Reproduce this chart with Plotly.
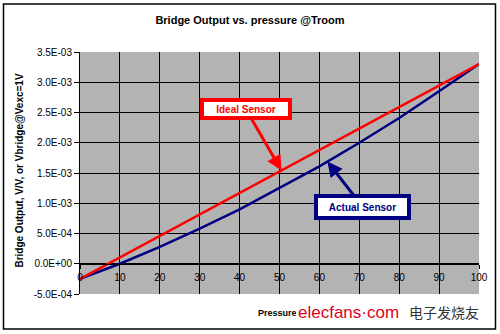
import plotly.graph_objects as go

pressure = [0, 10, 20, 30, 40, 50, 60, 70, 80, 90, 100]
ideal_sensor = [-2.5e-4, 1.05e-4, 4.6e-4, 8.15e-4, 1.17e-3, 1.525e-3, 1.88e-3, 2.235e-3, 2.59e-3, 2.945e-3, 3.3e-3]
actual_sensor = [-2.5e-4, 0.0, 2.8e-4, 5.8e-4, 9.0e-4, 1.25e-3, 1.61e-3, 2.0e-3, 2.41e-3, 2.85e-3, 3.3e-3]
y_ticks = [-5e-4, 0.0, 5e-4, 1e-3, 1.5e-3, 2e-3, 2.5e-3, 3e-3, 3.5e-3]
y_ticktext = [f"{v:.1E}" for v in y_ticks]
x_ticks = [0, 10, 20, 30, 40, 50, 60, 70, 80, 90, 100]

FONT = "Liberation Sans, Arial, sans-serif"

fig = go.Figure()
fig.add_trace(go.Scatter(x=pressure, y=actual_sensor, mode="lines",
                         line=dict(color="#000080", width=2.5), showlegend=False))
fig.add_trace(go.Scatter(x=pressure, y=ideal_sensor, mode="lines",
                         line=dict(color="#ff0000", width=2.5), showlegend=False))

fig.update_layout(
    width=500, height=334,
    margin=dict(l=80, r=21, t=52, b=40),
    paper_bgcolor="white",
    plot_bgcolor="#b3b3b3",
    font=dict(family=FONT, color="black", size=10),
    title=dict(text="<b>Bridge Output vs. pressure @Troom</b>",
               x=0.5, xref="container", xanchor="center",
               y=1 - 20 / 334, yref="container", yanchor="middle",
               font=dict(size=11, family=FONT, color="black")),
    xaxis=dict(range=[0, 100], tickvals=x_ticks, showgrid=True, gridcolor="black",
               gridwidth=1, showline=True, linecolor="black", linewidth=1,
               ticks="outside", ticklen=4, tickcolor="black",
               anchor="free", position=0.125, zeroline=False,
               tickfont=dict(size=10, family=FONT, color="black")),
    yaxis=dict(range=[-5e-4, 3.5e-3], tickvals=y_ticks, ticktext=y_ticktext,
               showgrid=True, gridcolor="black", gridwidth=1,
               showline=True, linecolor="black", linewidth=1,
               ticks="outside", ticklen=5, tickcolor="black", zeroline=False,
               tickfont=dict(size=10, family=FONT, color="black")),
)

# Y axis title
fig.add_annotation(text="<b>Bridge Output, V/V, or Vbridge@Vexc=1V</b>",
                   xref="paper", yref="paper", x=(20 - 80) / 399, y=0.51,
                   xanchor="center", yanchor="middle", textangle=-90,
                   showarrow=False, font=dict(size=10, family=FONT, color="black"))
# X axis title
fig.add_annotation(text="<b>Pressure</b>", xref="paper", yref="paper",
                   x=(256 - 80) / 399, y=(294 - 313) / 242,
                   xanchor="left", yanchor="middle", showarrow=False,
                   font=dict(size=9, family=FONT, color="black"))
# watermark
fig.add_annotation(text="elecfans·com", xref="paper", yref="paper",
                   x=(296 - 80) / 399, y=(294 - 312) / 242,
                   xanchor="left", yanchor="middle", showarrow=False,
                   bgcolor="white",
                   font=dict(size=17, family=FONT, color="#e0001b"))
fig.add_annotation(text="电子发烧友", xref="paper", yref="paper",
                   x=(407 - 80) / 399, y=(294 - 312) / 242,
                   xanchor="left", yanchor="middle", showarrow=False,
                   font=dict(size=14, family="Noto Sans CJK SC", color="#333333"))

# Callouts
fig.add_annotation(text="<b>Ideal Sensor</b>", x=50.5, y=1.54e-3, xref="x", yref="y",
                   ax=-36, ay=-62, showarrow=True, arrowhead=2, arrowsize=1,
                   arrowwidth=3, arrowcolor="#ff0000",
                   bgcolor="white", bordercolor="#ff0000", borderwidth=4, borderpad=1,
                   width=82, height=12,
                   font=dict(size=10, family=FONT, color="#ff0000"))
fig.add_annotation(text="<b>Actual Sensor</b>", x=62, y=1.69e-3, xref="x", yref="y",
                   ax=35, ay=45, showarrow=True, arrowhead=2, arrowsize=1,
                   arrowwidth=3, arrowcolor="#000080",
                   bgcolor="white", bordercolor="#000080", borderwidth=4, borderpad=1,
                   width=87, height=16,
                   font=dict(size=10, family=FONT, color="#000080"))

# Outer chart border
fig.add_shape(type="rect", xref="paper", yref="paper",
              x0=(3.5 - 80) / 399, x1=(495.5 - 80) / 399,
              y0=(294 - 329) / 242, y1=(294 - 4) / 242,
              line=dict(color="black", width=1.5), fillcolor="rgba(0,0,0,0)", layer="above")

fig.write_html("out.html")
